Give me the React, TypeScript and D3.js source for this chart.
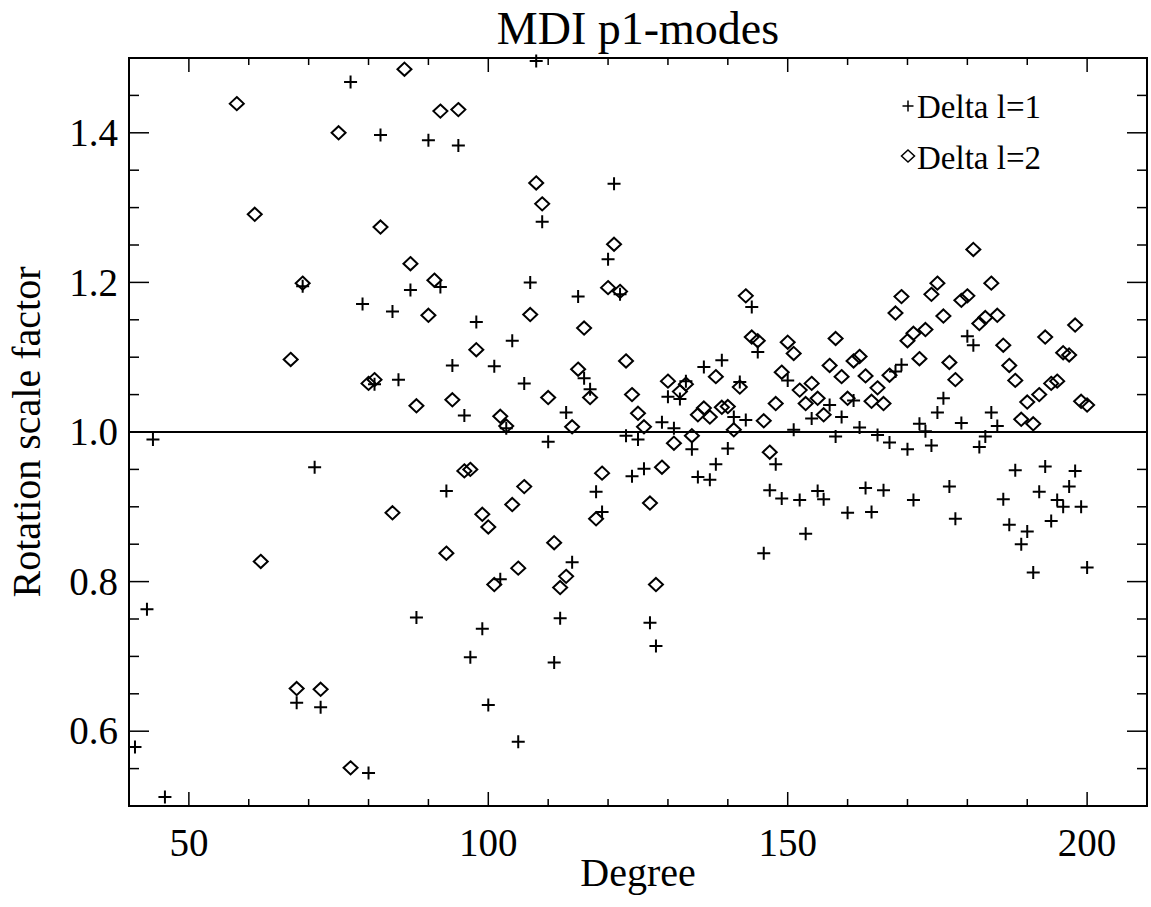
import React from "react";
import * as d3 from "d3";

// Delta l=1 (plus symbols)
const degL1 = [
  41, 43, 44, 46, 68, 69, 71, 72, 77, 79, 80, 81, 82, 84, 85, 87, 88, 90, 92, 93, 94, 95, 96, 97, 98, 99,
  100, 101, 102, 103, 104, 105, 106, 107, 108, 109, 110, 111, 112, 113, 114, 115, 116, 117, 118, 119,
  120, 121, 122, 123, 124, 125, 126, 127, 128, 129, 130, 131, 132, 133, 134, 135, 136, 137, 138, 139,
  140, 141, 142, 143, 144, 145, 146, 147, 148, 149, 150, 151, 152, 153, 154, 155, 156, 157, 158, 159,
  160, 161, 162, 163, 164, 165, 166, 167, 168, 169, 170, 171, 172, 173, 174, 175, 176, 177, 178, 179,
  180, 181, 182, 183, 184, 185, 186, 187, 188, 189, 190, 191, 192, 193, 194, 195, 196, 197, 198, 199, 200,
];
const valL1 = [
  0.579, 0.763, 0.99, 0.512, 0.638, 1.195, 0.953, 0.632, 1.468, 1.171, 0.544, 1.064, 1.397, 1.161, 1.07,
  1.19, 0.752, 1.39, 1.194, 0.921, 1.089, 1.383, 1.022, 0.699, 1.147, 0.737,
  0.635, 1.088, 0.803, 1.005, 1.122, 0.586, 1.065, 1.2, 1.496, 1.281, 0.987, 0.692, 0.751, 1.026, 0.826,
  1.181, 1.072, 1.057, 0.92, 0.893,
  1.231, 1.332, 1.184, 0.995, 0.941, 0.99, 0.951, 0.745, 0.714, 1.013, 1.047, 1.005, 1.044, 1.068, 0.977,
  0.94, 1.087, 0.936, 0.957, 1.096,
  0.978, 1.02, 1.067, 1.016, 1.167, 1.107, 0.838, 0.922, 0.957, 0.911, 1.069, 1.003, 0.909, 0.864, 1.018,
  0.921, 0.91, 1.036, 0.994, 1.02,
  0.892, 1.042, 1.006, 0.925, 0.893, 0.996, 0.922, 0.986, 1.081, 1.09, 0.977, 0.909, 1.011, 1.001, 0.982,
  1.026, 1.045, 0.927, 0.884, 1.012,
  1.128, 1.116, 0.98, 0.994, 1.026, 1.008, 0.91, 0.876, 0.949, 0.85, 0.867, 0.812, 0.92, 0.954, 0.881,
  0.909, 0.9, 0.927, 0.948, 0.9, 0.819,
];

// Delta l=2 (diamond symbols)
const degL2 = [
  58, 61, 62, 67, 68, 69, 72, 75, 77, 80, 81, 82, 84, 86, 87, 88, 90, 91, 92, 93, 94, 95, 96, 97, 98, 99,
  100, 101, 102, 103, 104, 105, 106, 107, 108, 109, 110, 111, 112, 113, 114, 115, 116, 117, 118, 119,
  120, 121, 122, 123, 124, 125, 126, 127, 128, 129, 130, 131, 132, 133, 134, 135, 136, 137, 138, 139,
  140, 141, 142, 143, 144, 145, 146, 147, 148, 149, 150, 151, 152, 153, 154, 155, 156, 157, 158, 159,
  160, 161, 162, 163, 164, 165, 166, 167, 168, 169, 170, 171, 172, 173, 174, 175, 176, 177, 178, 179,
  180, 181, 182, 183, 184, 185, 186, 187, 188, 189, 190, 191, 192, 193, 194, 195, 196, 197, 198, 199, 200,
];
const valL2 = [
  1.439, 1.291, 0.827, 1.097, 0.657, 1.199, 0.656, 1.4, 0.551, 1.065, 1.07, 1.274, 0.892, 1.485, 1.225,
  1.035, 1.156, 1.203, 1.429, 0.838, 1.043, 1.431, 0.948, 0.95, 1.11, 0.89,
  0.873, 0.796, 1.021, 1.008, 0.903, 0.818, 0.927, 1.157, 1.333, 1.305, 1.046, 0.852, 0.792, 0.807, 1.007,
  1.084, 1.139, 1.046, 0.884, 0.945,
  1.193, 1.251, 1.188, 1.095, 1.05, 1.025, 1.007, 0.905, 0.796, 0.953, 1.068, 0.985, 1.054, 1.064, 0.995,
  1.023, 1.032, 1.02, 1.074, 1.033,
  1.034, 1.003, 1.06, 1.182, 1.127, 1.122, 1.015, 0.973, 1.038, 1.08, 1.12, 1.105, 1.056, 1.038, 1.065,
  1.045, 1.023, 1.089, 1.125, 1.074,
  1.045, 1.095, 1.101, 1.075, 1.041, 1.059, 1.038, 1.076, 1.159, 1.181, 1.122, 1.132, 1.098, 1.137, 1.184,
  1.199, 1.155, 1.093, 1.07, 1.176,
  1.182, 1.244, 1.145, 1.153, 1.199, 1.156, 1.116, 1.089, 1.069, 1.017, 1.04, 1.011, 1.05, 1.127, 1.065,
  1.068, 1.106, 1.103, 1.143, 1.041, 1.036,
];

const xMajor = [50, 100, 150, 200];
const xMinor = d3.range(40, 211, 10);
const yMajor = [0.6, 0.8, 1.0, 1.2, 1.4];
const yMinor = d3.range(0.5, 1.501, 0.05);

const W = 1151;
const H = 907;
const left = 129;
const right = 1147;
const top = 58;
const bottom = 806;
const font = "'Liberation Serif', 'Times New Roman', serif";

const plusPath = (s: number) => `M${-s},0H${s}M0,${-s}V${s}`;
const diamondPath = (w: number, h: number) => `M0,${-h}L${w},0L0,${h}L${-w},0Z`;

export default function App() {
  const x = d3.scaleLinear().domain([40, 210]).range([left, right]);
  const y = d3.scaleLinear().domain([0.5, 1.5]).range([bottom, top]);

  return (
    <svg width={W} height={H} style={{ position: "absolute", left: 0, top: 0, background: "#fff" }}>
      <rect width={W} height={H} fill="#fff" />
      <text x={(left + right) / 2} y={44} textAnchor="middle" fontFamily={font} fontSize={46}>
        MDI p1-modes
      </text>

      {/* frame */}
      <rect x={left} y={top} width={right - left} height={bottom - top} fill="none" stroke="#000" strokeWidth={2} />

      {/* x ticks, bottom and top */}
      {xMinor.map((v) => {
        const len = xMajor.includes(v) ? 14 : 7;
        return (
          <g key={"xt" + v} stroke="#000" strokeWidth={1.5}>
            <line x1={x(v)} x2={x(v)} y1={bottom} y2={bottom - len} />
            <line x1={x(v)} x2={x(v)} y1={top} y2={top + len} />
          </g>
        );
      })}
      {xMajor.map((v) => (
        <text key={"xl" + v} x={x(v)} y={856} textAnchor="middle" fontFamily={font} fontSize={39}>
          {v}
        </text>
      ))}

      {/* y ticks, left and right */}
      {yMinor.map((v) => {
        const major = yMajor.some((m) => Math.abs(m - v) < 1e-6);
        const len = major ? 20 : 10;
        return (
          <g key={"yt" + v.toFixed(2)} stroke="#000" strokeWidth={1.5}>
            <line x1={left} x2={left + len} y1={y(v)} y2={y(v)} />
            <line x1={right} x2={right - len} y1={y(v)} y2={y(v)} />
          </g>
        );
      })}
      {yMajor.map((v) => (
        <text
          key={"yl" + v}
          x={118}
          y={y(v)}
          dy="0.34em"
          textAnchor="end"
          fontFamily={font}
          fontSize={39}
        >
          {v.toFixed(1)}
        </text>
      ))}

      <text x={(left + right) / 2} y={886} textAnchor="middle" fontFamily={font} fontSize={40}>
        Degree
      </text>
      <text
        transform={`translate(40,${(top + bottom) / 2}) rotate(-90)`}
        textAnchor="middle"
        fontFamily={font}
        fontSize={40}
      >
        Rotation scale factor
      </text>

      {/* reference line */}
      <line x1={left} x2={right} y1={y(1)} y2={y(1)} stroke="#000" strokeWidth={2} />

      {/* data */}
      <g fill="none" stroke="#000" strokeWidth={2}>
        {degL2.map((d, i) => (
          <path key={"d" + i} d={diamondPath(7, 6.6)} transform={`translate(${x(d)},${y(valL2[i])})`} />
        ))}
        {degL1.map((d, i) => (
          <path key={"p" + i} d={plusPath(6.5)} transform={`translate(${x(d)},${y(valL1[i])})`} />
        ))}
      </g>

      {/* legend */}
      <g fill="none" stroke="#000" strokeWidth={1.5}>
        <path d={plusPath(5.5)} transform="translate(908,106)" />
        <path d={diamondPath(6.5, 6)} transform="translate(908,156)" />
      </g>
      <text x={917} y={118} fontFamily={font} fontSize={33}>
        Delta l=1
      </text>
      <text x={917} y={169} fontFamily={font} fontSize={33}>
        Delta l=2
      </text>
    </svg>
  );
}
